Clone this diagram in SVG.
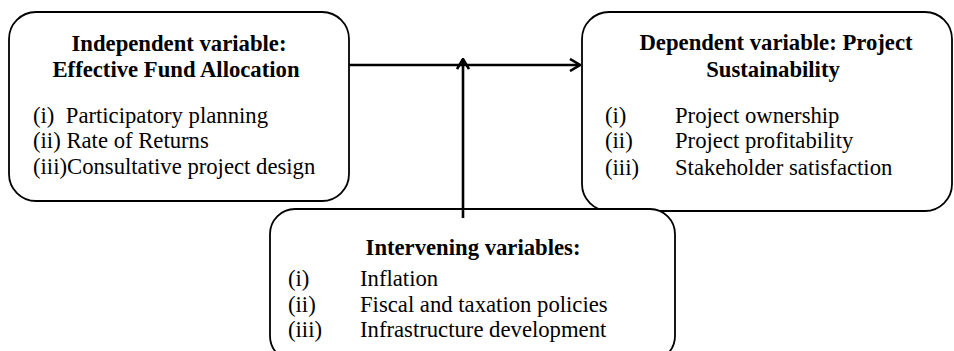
<svg xmlns="http://www.w3.org/2000/svg" width="954" height="351" viewBox="0 0 954 351">
<defs>
<style>
.box{fill:#fff;stroke:#000;stroke-width:1.8}
.h{font-family:"Liberation Serif","Times New Roman",serif;font-weight:bold;font-size:22.7px;fill:#000;text-anchor:middle}
.t{font-family:"Liberation Serif","Times New Roman",serif;font-size:22.7px;fill:#000}
.c{fill:none;stroke:#000;stroke-width:2.6}
</style>
<marker id="arr" viewBox="0 0 12 14" refX="11" refY="7" markerWidth="12" markerHeight="14" markerUnits="userSpaceOnUse" orient="auto">
<path d="M1,1 L11,7 L1,13" fill="none" stroke="#000" stroke-width="2.6"/>
</marker>
</defs>
<rect width="954" height="351" fill="#fff"/>
<g id="independent">
<rect class="box" x="9" y="12" width="340" height="189" rx="27" ry="27"/>
<text class="h" x="179" y="51">Independent variable:</text>
<text class="h" x="176" y="77">Effective Fund Allocation</text>
<text class="t" x="33" y="123" xml:space="preserve">(i)  Participatory planning</text>
<text class="t" x="33" y="148">(ii) Rate of Returns</text>
<text class="t" x="33" y="174">(iii)Consultative project design</text>
</g>
<g id="dependent">
<rect class="box" x="582" y="12" width="370" height="199" rx="27" ry="27"/>
<text class="h" x="776" y="50">Dependent variable: Project</text>
<text class="h" x="773" y="77">Sustainability</text>
<text class="t" x="605" y="123">(i)</text>
<text class="t" x="675" y="123">Project ownership</text>
<text class="t" x="605" y="148">(ii)</text>
<text class="t" x="675" y="148">Project profitability</text>
<text class="t" x="605" y="175">(iii)</text>
<text class="t" x="675" y="175">Stakeholder satisfaction</text>
</g>
<g id="intervening">
<rect class="box" x="270" y="209" width="405" height="152" rx="25" ry="25"/>
<text class="h" x="473" y="255">Intervening variables:</text>
<text class="t" x="288" y="286">(i)</text>
<text class="t" x="360" y="286">Inflation</text>
<text class="t" x="288" y="312">(ii)</text>
<text class="t" x="360" y="312">Fiscal and taxation policies</text>
<text class="t" x="288" y="337">(iii)</text>
<text class="t" x="360" y="337">Infrastructure development</text>
</g>
<g id="connectors">
<line class="c" x1="349" y1="65" x2="580" y2="65" marker-end="url(#arr)"/>
<line class="c" x1="463" y1="218" x2="463" y2="59" marker-end="url(#arr)"/>
</g>
</svg>
